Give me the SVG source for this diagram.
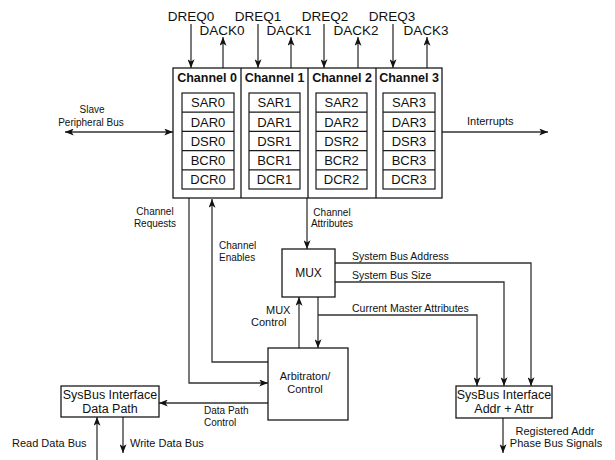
<svg xmlns="http://www.w3.org/2000/svg" width="615" height="460" viewBox="0 0 615 460">
<style>
.box{fill:#fff;stroke:#1a1a1a;stroke-width:1.3}
.reg{fill:#fff;stroke:#1a1a1a;stroke-width:1.2}
.ln{fill:none;stroke:#333;stroke-width:1.3}
.arr{fill:none;stroke:#333;stroke-width:1.3;marker-end:url(#ah)}
.t{font-family:"Liberation Sans",Arial,sans-serif;fill:#111}
.sig{font-size:13.5px;text-anchor:middle}
.hd{font-size:12.5px;font-weight:bold;text-anchor:middle}
.rg{font-size:13px;text-anchor:middle}
.sm{font-size:10px}
.md{font-size:11px}
.bx{font-size:12.5px;text-anchor:middle}
.mid{text-anchor:middle}
</style>
<defs>
<marker id="ah" viewBox="0 0 10 8" refX="10" refY="4" markerWidth="9" markerHeight="7" markerUnits="userSpaceOnUse" orient="auto-start-reverse">
<path d="M0,0 L10,4 L0,8 L2.5,4 z" fill="#111"/>
</marker>
</defs>

<g id="connectors">
<!-- DREQ / DACK -->
<line class="arr" x1="191" y1="24" x2="191" y2="68"/>
<line class="arr" x1="223" y1="68" x2="223" y2="37"/>
<line class="arr" x1="258" y1="24" x2="258" y2="68"/>
<line class="arr" x1="291" y1="68" x2="291" y2="37"/>
<line class="arr" x1="324" y1="24" x2="324" y2="68"/>
<line class="arr" x1="358" y1="68" x2="358" y2="37"/>
<line class="arr" x1="393" y1="24" x2="393" y2="68"/>
<line class="arr" x1="427" y1="68" x2="427" y2="37"/>
<!-- Slave peripheral bus -->
<line class="arr" x1="65" y1="132" x2="173" y2="132" style="marker-start:url(#ah)"/>
<!-- Interrupts -->
<line class="arr" x1="442" y1="132" x2="548" y2="132"/>
<!-- Channel requests -->
<polyline class="arr" points="189,198 189,383 268,383"/>
<!-- Channel enables -->
<polyline class="arr" points="268,362 212,362 212,199"/>
<!-- Channel attributes -->
<line class="arr" x1="307" y1="198" x2="307" y2="249"/>
<!-- MUX control -->
<line class="arr" x1="299" y1="348" x2="299" y2="297"/>
<!-- MUX to arbitration -->
<line class="arr" x1="318" y1="297" x2="318" y2="348"/>
<!-- Current master attributes -->
<polyline class="arr" points="318,315 477,315 477,386"/>
<!-- System bus address -->
<polyline class="arr" points="335,263 531,263 531,386"/>
<!-- System bus size -->
<polyline class="arr" points="335,282 504,282 504,386"/>
<!-- Data path control -->
<line class="arr" x1="268" y1="403" x2="159" y2="403"/>
<!-- Read / Write data bus -->
<line class="arr" x1="97" y1="460" x2="97" y2="417"/>
<line class="arr" x1="123" y1="417" x2="123" y2="453"/>
<!-- Registered addr -->
<line class="arr" x1="503" y1="418" x2="503" y2="453"/>
</g>

<g id="labels">
<text class="t sig" x="191" y="21">DREQ0</text>
<text class="t sig" x="222" y="35">DACK0</text>
<text class="t sig" x="258" y="21">DREQ1</text>
<text class="t sig" x="289" y="35">DACK1</text>
<text class="t sig" x="325" y="21">DREQ2</text>
<text class="t sig" x="356" y="35">DACK2</text>
<text class="t sig" x="392" y="21">DREQ3</text>
<text class="t sig" x="426" y="35">DACK3</text>
<text class="t sm mid" x="92" y="113">Slave</text>
<text class="t sm mid" x="91" y="126">Peripheral Bus</text>
<text class="t md" x="467" y="125">Interrupts</text>
<text class="t sm mid" x="155" y="215">Channel</text>
<text class="t sm mid" x="155" y="227">Requests</text>
<text class="t sm" x="219" y="249">Channel</text>
<text class="t sm" x="219" y="261">Enables</text>
<text class="t sm mid" x="332" y="216">Channel</text>
<text class="t sm mid" x="332" y="227">Attributes</text>
<text class="t md" x="266" y="314">MUX</text>
<text class="t md" x="251" y="326">Control</text>
<text class="t" style="font-size:10.5px" x="352" y="260">System Bus Address</text>
<text class="t" style="font-size:10.5px" x="352" y="279">System Bus Size</text>
<text class="t" style="font-size:10.5px" x="352" y="312">Current Master Attributes</text>
<text class="t sm" x="204" y="414">Data Path</text>
<text class="t sm" x="204" y="426">Control</text>
<text class="t md" x="12" y="447">Read Data Bus</text>
<text class="t md" x="130" y="447">Write Data Bus</text>
<text class="t md mid" x="555" y="435">Registered Addr</text>
<text class="t md mid" x="556" y="447">Phase Bus Signals</text>
</g>

<g id="channels">
<rect class="box" x="173" y="68" width="269" height="130"/>
<line class="ln" x1="241" y1="68" x2="241" y2="198" style="stroke:#1a1a1a"/>
<line class="ln" x1="308" y1="68" x2="308" y2="198" style="stroke:#1a1a1a"/>
<line class="ln" x1="376" y1="68" x2="376" y2="198" style="stroke:#1a1a1a"/>
</g>

<g id="channel0">
<text class="t hd" x="207" y="82">Channel 0</text>
<rect class="reg" x="182" y="93" width="52" height="96"/>
<path class="reg" d="M182,112.2H234M182,131.4H234M182,150.6H234M182,169.8H234"/>
<text class="t rg" x="208" y="107">SAR0</text>
<text class="t rg" x="208" y="126.5">DAR0</text>
<text class="t rg" x="208" y="145.5">DSR0</text>
<text class="t rg" x="208" y="164.5">BCR0</text>
<text class="t rg" x="208" y="184">DCR0</text>
</g>

<g id="channel1">
<text class="t hd" x="274.5" y="82">Channel 1</text>
<rect class="reg" x="249" y="93" width="51" height="96"/>
<path class="reg" d="M249,112.2H300M249,131.4H300M249,150.6H300M249,169.8H300"/>
<text class="t rg" x="274.5" y="107">SAR1</text>
<text class="t rg" x="274.5" y="126.5">DAR1</text>
<text class="t rg" x="274.5" y="145.5">DSR1</text>
<text class="t rg" x="274.5" y="164.5">BCR1</text>
<text class="t rg" x="274.5" y="184">DCR1</text>
</g>

<g id="channel2">
<text class="t hd" x="342" y="82">Channel 2</text>
<rect class="reg" x="316" y="93" width="51" height="96"/>
<path class="reg" d="M316,112.2H367M316,131.4H367M316,150.6H367M316,169.8H367"/>
<text class="t rg" x="341.5" y="107">SAR2</text>
<text class="t rg" x="341.5" y="126.5">DAR2</text>
<text class="t rg" x="341.5" y="145.5">DSR2</text>
<text class="t rg" x="341.5" y="164.5">BCR2</text>
<text class="t rg" x="341.5" y="184">DCR2</text>
</g>

<g id="channel3">
<text class="t hd" x="409" y="82">Channel 3</text>
<rect class="reg" x="383" y="93" width="52" height="96"/>
<path class="reg" d="M383,112.2H435M383,131.4H435M383,150.6H435M383,169.8H435"/>
<text class="t rg" x="409" y="107">SAR3</text>
<text class="t rg" x="409" y="126.5">DAR3</text>
<text class="t rg" x="409" y="145.5">DSR3</text>
<text class="t rg" x="409" y="164.5">BCR3</text>
<text class="t rg" x="409" y="184">DCR3</text>
</g>

<g id="mux">
<rect class="box" x="282" y="249" width="53" height="48"/>
<text class="t" style="font-size:12px;text-anchor:middle" x="308.5" y="277">MUX</text>
</g>

<g id="arbitration">
<rect class="box" x="268" y="348" width="80" height="72"/>
<text class="t md mid" x="305" y="380">Arbitraton/</text>
<text class="t md mid" x="305" y="393">Control</text>
</g>

<g id="sysbus-data">
<rect class="box" x="61" y="386" width="98" height="31"/>
<text class="t bx" x="110" y="399">SysBus Interface</text>
<text class="t bx" x="110" y="413">Data Path</text>
</g>

<g id="sysbus-addr">
<rect class="box" x="456" y="386" width="96" height="32"/>
<text class="t bx" x="504" y="399">SysBus Interface</text>
<text class="t bx" x="504" y="413">Addr + Attr</text>
</g>
</svg>
